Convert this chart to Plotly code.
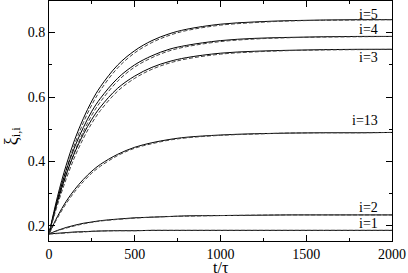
import plotly.graph_objects as go

t = [0, 50, 100, 150, 200, 250, 300, 400, 500, 600, 700, 800, 1000, 1200, 1400, 1600, 1800, 2000]

xi5_solid = [0.175, 0.292, 0.388, 0.468, 0.533, 0.588, 0.632, 0.699, 0.744, 0.775, 0.796, 0.810, 0.826, 0.833, 0.837, 0.839, 0.840, 0.840]
xi5_dash = [0.175, 0.282, 0.374, 0.454, 0.520, 0.576, 0.621, 0.690, 0.737, 0.769, 0.791, 0.806, 0.823, 0.831, 0.836, 0.838, 0.839, 0.840]
xi4_solid = [0.175, 0.283, 0.372, 0.445, 0.505, 0.556, 0.596, 0.658, 0.700, 0.728, 0.748, 0.760, 0.775, 0.782, 0.785, 0.787, 0.788, 0.788]
xi4_dash = [0.175, 0.273, 0.358, 0.431, 0.492, 0.544, 0.585, 0.649, 0.693, 0.722, 0.743, 0.756, 0.772, 0.780, 0.784, 0.786, 0.787, 0.788]
xi3_solid = [0.175, 0.276, 0.359, 0.428, 0.484, 0.531, 0.569, 0.627, 0.665, 0.692, 0.710, 0.722, 0.736, 0.742, 0.745, 0.747, 0.748, 0.748]
xi3_dash = [0.175, 0.266, 0.345, 0.414, 0.471, 0.519, 0.558, 0.618, 0.658, 0.686, 0.705, 0.718, 0.733, 0.740, 0.744, 0.746, 0.747, 0.748]
xi13_solid = [0.175, 0.230, 0.276, 0.313, 0.344, 0.370, 0.391, 0.422, 0.444, 0.458, 0.468, 0.475, 0.482, 0.486, 0.488, 0.489, 0.489, 0.490]
xi13_dash = [0.175, 0.225, 0.269, 0.306, 0.337, 0.364, 0.385, 0.418, 0.441, 0.455, 0.466, 0.473, 0.481, 0.485, 0.488, 0.489, 0.489, 0.490]
xi2_solid = [0.175, 0.186, 0.195, 0.202, 0.208, 0.212, 0.216, 0.221, 0.225, 0.227, 0.229, 0.231, 0.232, 0.233, 0.234, 0.234, 0.234, 0.234]
xi2_dash = [0.175, 0.185, 0.193, 0.200, 0.206, 0.211, 0.215, 0.220, 0.224, 0.227, 0.229, 0.230, 0.232, 0.233, 0.234, 0.234, 0.234, 0.234]
xi1_solid = [0.175, 0.177, 0.179, 0.181, 0.182, 0.183, 0.184, 0.185, 0.185, 0.186, 0.186, 0.186, 0.186, 0.186, 0.186, 0.186, 0.186, 0.186]
xi1_dash = [0.175, 0.176, 0.178, 0.180, 0.181, 0.183, 0.184, 0.185, 0.185, 0.186, 0.186, 0.186, 0.186, 0.186, 0.186, 0.186, 0.186, 0.186]

labels = ["i=5", "i=4", "i=3", "i=13", "i=2", "i=1"]
label_y = [0.857, 0.808, 0.724, 0.526, 0.256, 0.206]

SERIF = "Liberation Serif, serif"

fig = go.Figure()
pairs = [(xi5_solid, xi5_dash), (xi4_solid, xi4_dash), (xi3_solid, xi3_dash),
         (xi13_solid, xi13_dash), (xi2_solid, xi2_dash), (xi1_solid, xi1_dash)]
for s, d in pairs:
    fig.add_trace(go.Scatter(x=t, y=s, mode="lines", line=dict(color="black", width=1, shape="spline"), showlegend=False))
    fig.add_trace(go.Scatter(x=t, y=d, mode="lines", line=dict(color="#444444", width=1, dash="4px,2px", shape="spline"), showlegend=False))

for lab, ly in zip(labels, label_y):
    fig.add_annotation(x=1930, y=ly, text=lab, showarrow=False, xanchor="right", yanchor="middle",
                       font=dict(family=SERIF, size=14, color="black"))

# axis titles
fig.add_annotation(xref="paper", yref="paper", x=0.5, y=-0.112, text="t/τ", showarrow=False,
                   xanchor="center", yanchor="middle", borderpad=0,
                   font=dict(family=SERIF, size=16, color="black"))
fig.add_annotation(xref="paper", yref="paper", x=-0.108, y=0.44, text="ξ<sub>i,i</sub>", showarrow=False,
                   textangle=-90, xanchor="center", yanchor="middle", borderpad=0,
                   font=dict(family=SERIF, size=18, color="black"))

axis_common = dict(showline=True, linecolor="black", linewidth=1, mirror="ticks", ticks="inside",
                   ticklen=6, tickcolor="black", showgrid=False, zeroline=False,
                   tickfont=dict(family=SERIF, size=14, color="black"))

fig.update_xaxes(range=[0, 2000], tick0=0, dtick=500,
                 minor=dict(ticks="inside", ticklen=3, dtick=250, tickcolor="black", showgrid=False),
                 **axis_common)
fig.update_yaxes(range=[0.153, 0.898], tick0=0.2, dtick=0.2, tickformat=".1f",
                 minor=dict(ticks="inside", ticklen=3, dtick=0.1, tickcolor="black", showgrid=False),
                 **axis_common)

fig.update_layout(width=408, height=273, margin=dict(l=49, r=16, t=1, b=32),
                  plot_bgcolor="white", paper_bgcolor="white",
                  font=dict(family=SERIF, color="black"))

fig.write_html("out.html", config={"displayModeBar": False},
               post_script="document.body.style.margin='0';document.body.style.padding='0';")
